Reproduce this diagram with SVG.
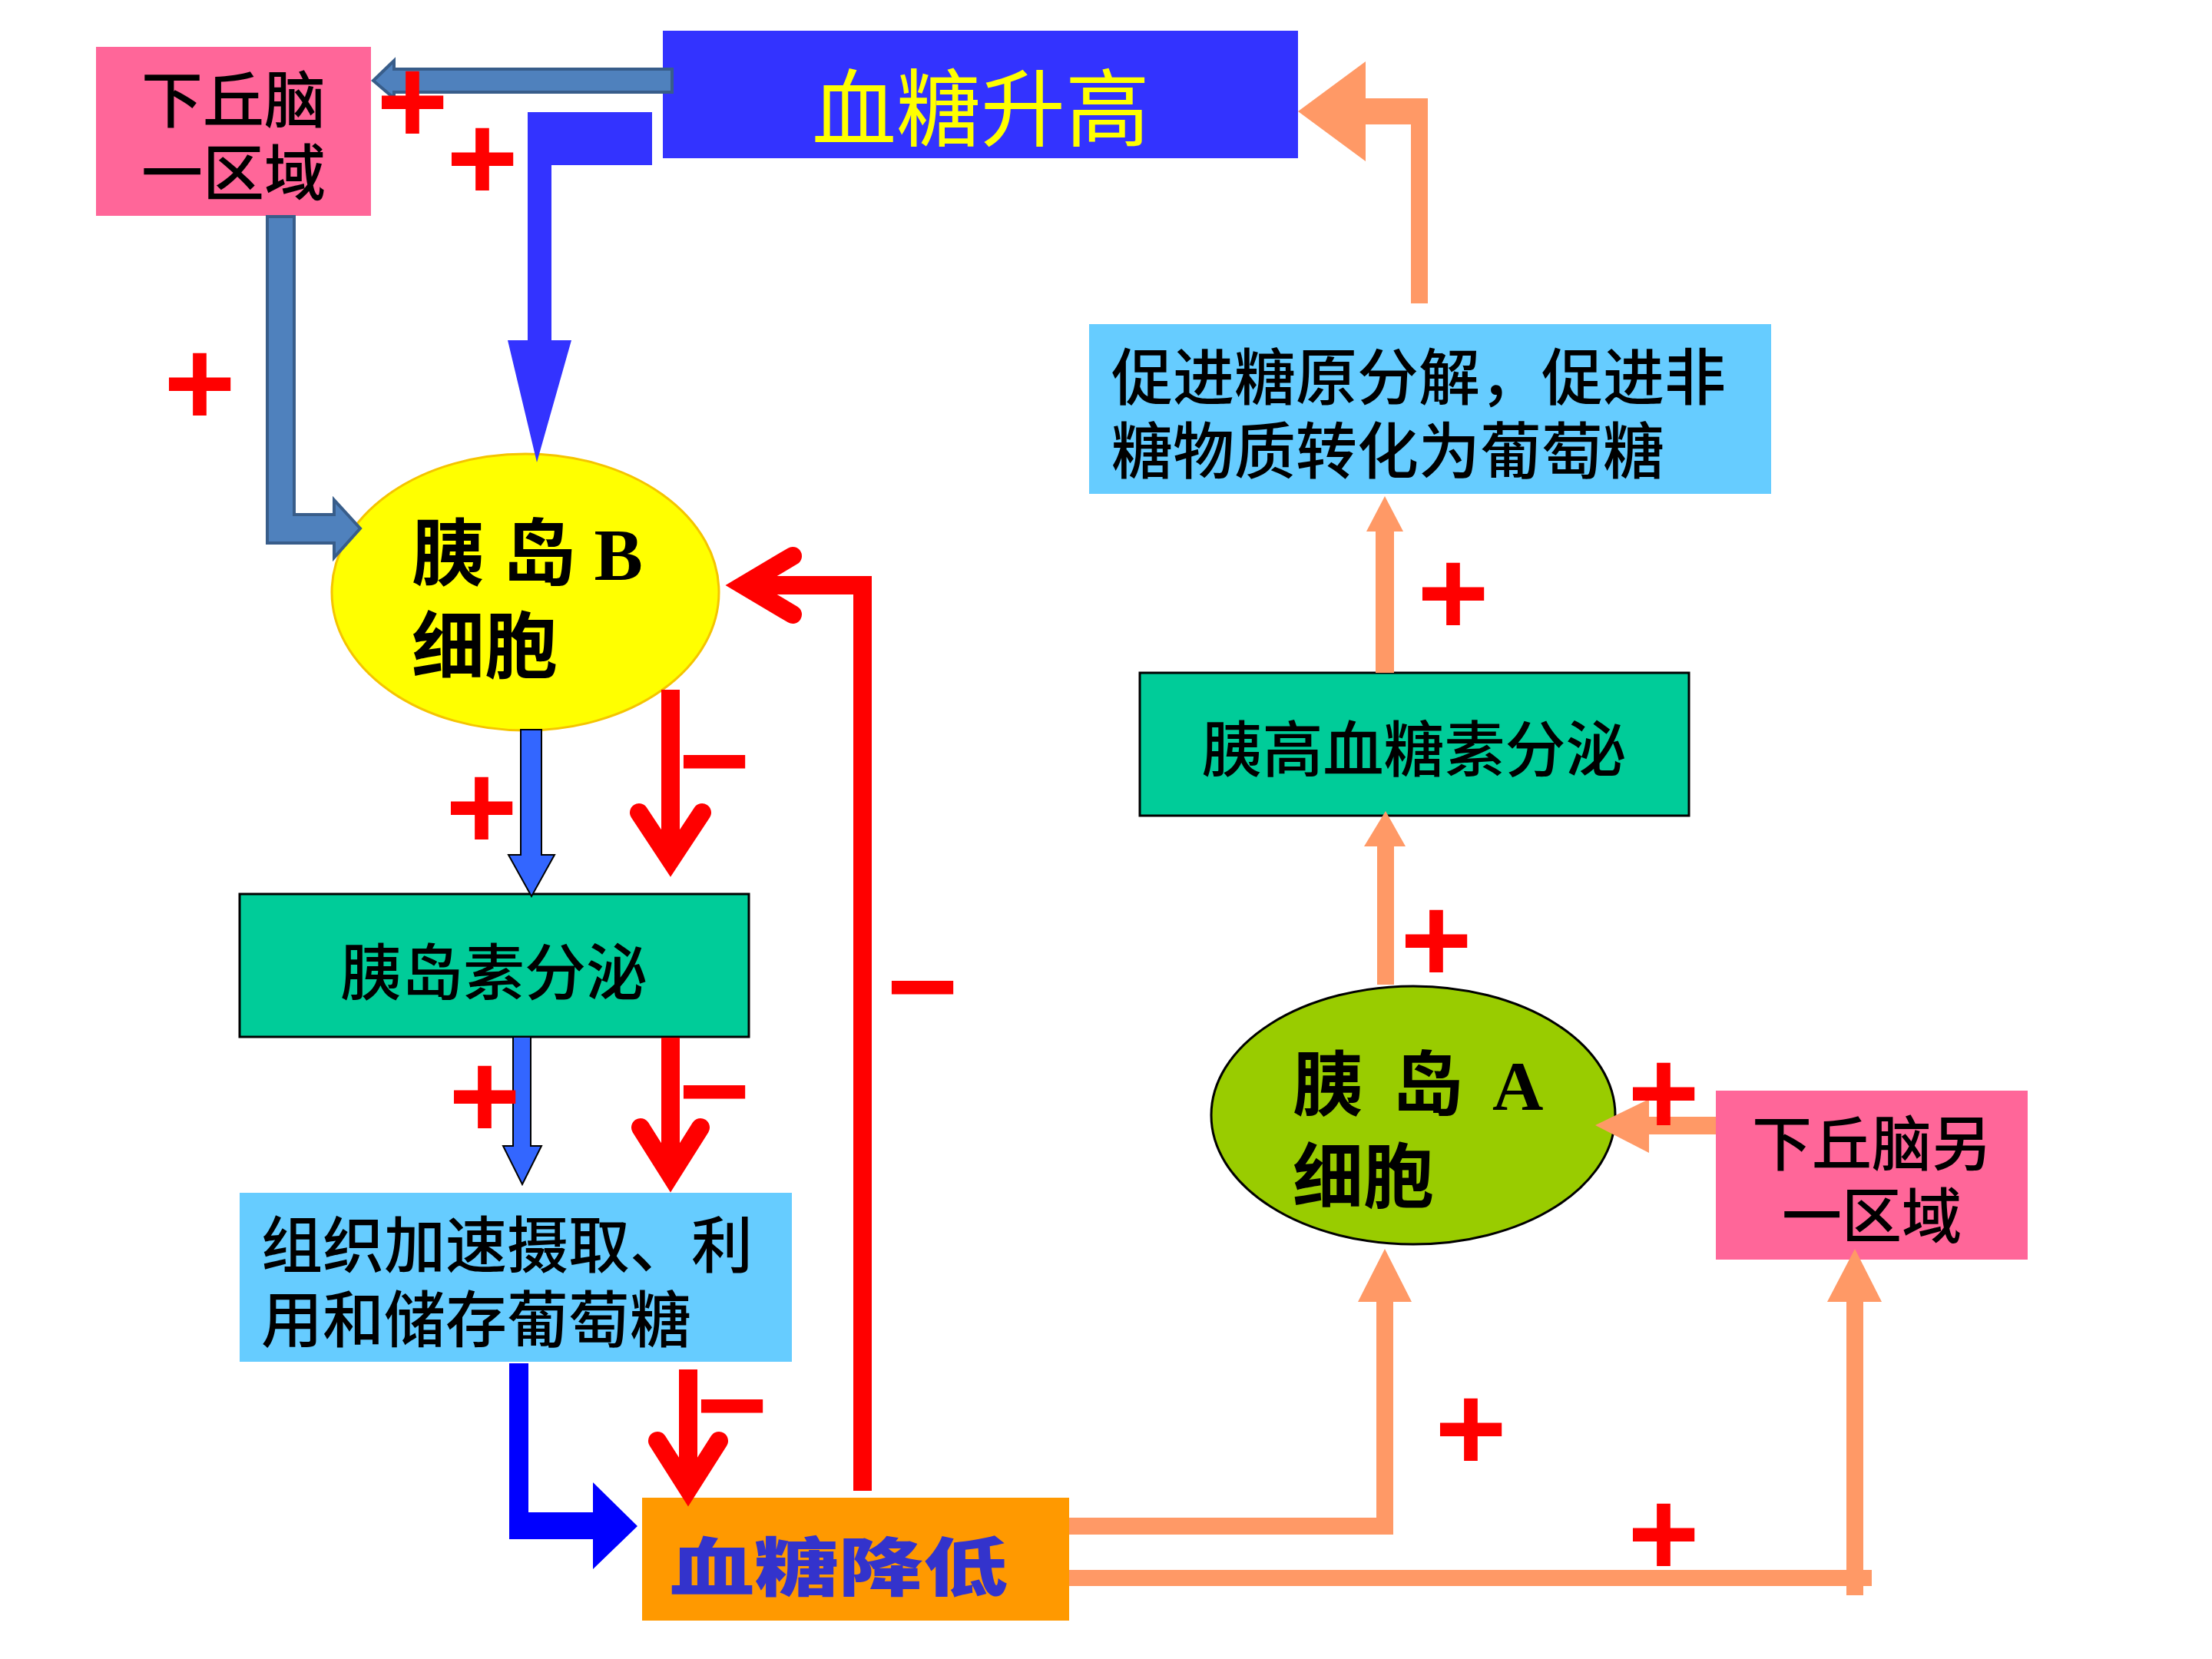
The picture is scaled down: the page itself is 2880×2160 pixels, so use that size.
<svg xmlns="http://www.w3.org/2000/svg" width="2880" height="2160" viewBox="0 0 2880 2160">
<style>
.lbl{font-family:"Noto Sans CJK SC",sans-serif;fill:#000;font-weight:500;}
.mix{font-family:"Liberation Serif","Noto Sans CJK SC",serif;fill:#000;font-weight:bold;}
.sign{font-family:"Liberation Sans",sans-serif;font-weight:bold;fill:#FF0000;text-anchor:middle;dominant-baseline:central;font-size:160px;}
.rl{fill:none;stroke:#FF0000;stroke-width:24;stroke-linecap:butt;stroke-linejoin:miter;}
.rc{fill:none;stroke:#FF0000;stroke-width:24;stroke-linecap:round;stroke-linejoin:miter;stroke-miterlimit:10;}
.salmon{fill:#FF9966;}
.steel{fill:#4F81BD;stroke:#385D8A;stroke-width:4;}
.pink{fill:#FF6699;}
.green{fill:#00CC99;stroke:#000;stroke-width:3;}
.sky{fill:#66CCFF;}
.mid{text-anchor:middle;}
</style>
<rect width="2880" height="2160" fill="#FFFFFF"/>

<g id="nodes">
  <g id="hypothalamus1">
    <rect class="pink" x="125" y="61" width="358" height="220"/>
    <text class="lbl mid" font-size="80"><tspan x="304" y="159">下丘脑</tspan><tspan x="304" y="254">一区域</tspan></text>
  </g>
  <g id="glucose-high">
    <rect x="863" y="40" width="827" height="166" fill="#3333FF"/>
    <text class="mid" x="1277" y="182" font-size="110" fill="#FFFF00" font-family="Noto Sans CJK SC, sans-serif">血糖升高</text>
  </g>
  <g id="cellB">
    <ellipse cx="684" cy="771" rx="252" ry="180" fill="#FFFF00" stroke="#F5C400" stroke-width="3"/>
    <text class="mix" font-size="95" xml:space="preserve"><tspan x="536" y="755">胰 岛 B</tspan><tspan x="536" y="876">细胞</tspan></text>
  </g>
  <g id="insulin">
    <rect class="green" x="312" y="1164" width="663" height="186"/>
    <text class="lbl mid" x="643" y="1295" font-size="80">胰岛素分泌</text>
  </g>
  <g id="tissue">
    <rect class="sky" x="312" y="1553" width="719" height="220"/>
    <text class="lbl" font-size="80"><tspan x="340" y="1650">组织加速摄取、利</tspan><tspan x="340" y="1747">用和储存葡萄糖</tspan></text>
  </g>
  <g id="glucose-low">
    <rect x="836" y="1950" width="556" height="160" fill="#FF9900"/>
    <text class="mid" transform="translate(1092,2071) scale(1,0.75)" x="0" y="0" font-size="110" font-weight="900" fill="#3333CC" font-family="Noto Sans CJK SC, sans-serif">血糖降低</text>
  </g>
  <g id="cellA">
    <ellipse cx="1840" cy="1452" rx="263" ry="168" fill="#99CC00" stroke="#000" stroke-width="3"/>
    <text class="mix" font-size="92" word-spacing="15" xml:space="preserve"><tspan x="1683" y="1445">胰 岛 A</tspan><tspan x="1683" y="1565">细胞</tspan></text>
  </g>
  <g id="hypothalamus2">
    <rect class="pink" x="2234" y="1420" width="406" height="220"/>
    <text class="lbl mid" font-size="78"><tspan x="2437" y="1518">下丘脑另</tspan><tspan x="2437" y="1612">一区域</tspan></text>
  </g>
  <g id="glucagon">
    <rect class="green" x="1484" y="876" width="715" height="186"/>
    <text class="lbl mid" x="1841" y="1005" font-size="79">胰高血糖素分泌</text>
  </g>
  <g id="glycogenolysis">
    <rect class="sky" x="1418" y="422" width="888" height="221"/>
    <text class="lbl" font-size="80"><tspan x="1447" y="520">促进糖原分解，促进非</tspan><tspan x="1447" y="616">糖物质转化为葡萄糖</tspan></text>
  </g>
</g>

<g id="connectors">
  <polygon class="steel" points="875,90 513,90 513,79 486,105 513,128 513,120 875,120"/>
  <polygon class="steel" points="348,282 383,282 383,670 435,670 435,651 469,688 435,726 435,707 348,707"/>
  <polygon fill="#3333FF" points="687,146 849,146 849,215 718,215 718,443 744,443 699,602 661,443 687,443"/>
  <polygon fill="#3366FF" stroke="#000" stroke-width="2" points="678,950 705,950 705,1113 722,1113 692,1167 662,1113 678,1113"/>
  <polygon fill="#3366FF" stroke="#000" stroke-width="2" points="668,1350 691,1350 691,1492 705,1492 680,1542 655,1492 668,1492"/>
  <polygon fill="#0000FF" points="663,1775 688,1775 688,1969 772,1969 772,1930 830,1987 772,2043 772,2004 663,2004"/>

  <path class="rl" d="M873,898 V1118"/>
  <path class="rc" d="M832,1058 L873,1120 L914,1058"/>
  <path class="rl" d="M873,1351 V1528"/>
  <path class="rc" d="M834,1468 L873,1530 L912,1468"/>
  <path class="rl" d="M896,1783 V1937"/>
  <path class="rc" d="M856,1876 L896,1939 L936,1876"/>
  <path class="rl" d="M1123,1941 V762 H975"/>
  <path class="rc" d="M1032,724 L968,762 L1032,800"/>

  <polygon class="salmon" points="1392,1976 1792,1976 1792,1695 1768,1695 1803,1626 1838,1695 1814,1695 1814,1998 1392,1998"/>
  <rect class="salmon" x="1392" y="2044" width="1045" height="21"/>
  <rect class="salmon" x="2404" y="1695" width="22" height="382"/>
  <polygon class="salmon" points="2379,1695 2415,1626 2450,1695"/>
  <rect class="salmon" x="2147" y="1454" width="87" height="23"/>
  <polygon class="salmon" points="2147,1431 2077,1465 2147,1501"/>
  <rect class="salmon" x="1793" y="1100" width="22" height="182"/>
  <polygon class="salmon" points="1776,1102 1804,1056 1830,1102"/>
  <rect class="salmon" x="1791" y="690" width="24" height="186"/>
  <polygon class="salmon" points="1779,692 1803,646 1827,692"/>
  <polygon class="salmon" points="1837,395 1837,162 1778,162 1778,210 1690,145 1778,80 1778,128 1859,128 1859,395"/>
</g>

<g id="signs">
  <text class="sign" x="537" y="131">+</text>
  <text class="sign" x="628" y="205">+</text>
  <text class="sign" x="260" y="498">+</text>
  <text class="sign" x="627" y="1050">+</text>
  <text class="sign" x="631" y="1426">+</text>
  <text class="sign" x="1892" y="771">+</text>
  <text class="sign" x="1870" y="1223">+</text>
  <text class="sign" x="2166" y="1422">+</text>
  <text class="sign" x="1915" y="1859">+</text>
  <text class="sign" x="2166" y="1996">+</text>
  <text class="sign" x="930" y="989">−</text>
  <text class="sign" x="930" y="1419">−</text>
  <text class="sign" x="953" y="1828">−</text>
  <text class="sign" x="1201" y="1283">−</text>
</g>
</svg>
